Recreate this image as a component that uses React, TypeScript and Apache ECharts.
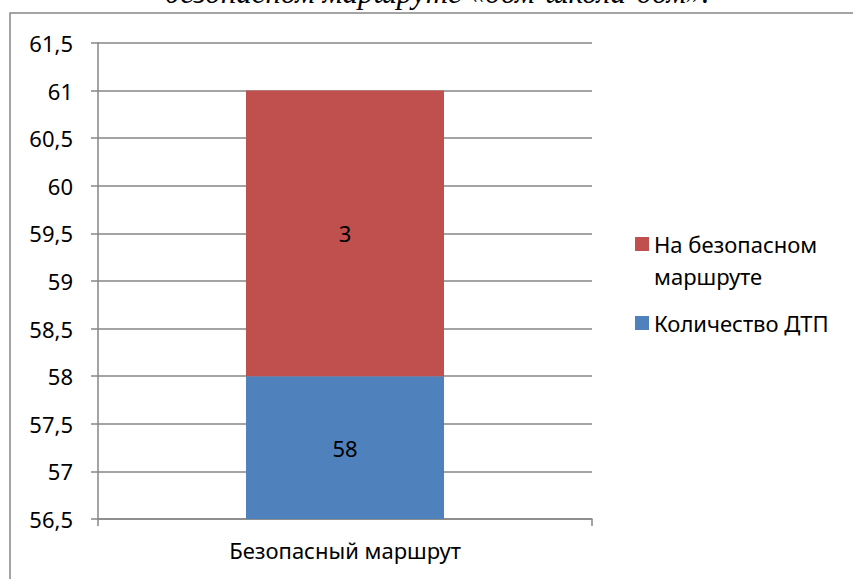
import React, { useEffect, useRef } from "react";
import * as echarts from "echarts";

const categories = ["Безопасный маршрут"];
const accidentsCount = [58];
const safeRouteCount = [3];
const seriesNames = ["Количество ДТП", "На безопасном маршруте"];
const yMin = 56.5;
const yMax = 61.5;
const yStep = 0.5;
const titleTail = "безопасном маршруте «дом-школа-дом».";

const FONT = "'Noto Sans', sans-serif";
const GRAY = "#868686";
const FS = 22;

export default function App() {
  const ref = useRef<HTMLDivElement>(null);
  useEffect(() => {
    if (!ref.current) return;
    const chart = echarts.init(ref.current, null, { renderer: "svg" });
    chart.setOption({
      animation: false,
      backgroundColor: "#ffffff",
      textStyle: { fontFamily: FONT },
      grid: { left: 98, right: 261, top: 43, bottom: 60, containLabel: false },
      graphic: [
        {
          type: "rect",
          shape: { x: 10, y: 13, width: 1000, height: 1000 },
          style: { fill: "none", stroke: GRAY, lineWidth: 1.5 },
          silent: true,
        },
        {
          type: "text",
          x: 437,
          y: 8,
          style: {
            text: titleTail,
            font: "italic 31px 'Liberation Serif', serif",
            fill: "#000",
            align: "center",
            verticalAlign: "bottom",
          },
        },
      ],
      legend: [
        {
          data: [seriesNames[1]],
          orient: "vertical",
          left: 630,
          top: 191,
          itemWidth: 14,
          itemHeight: 14,
          icon: "rect",
          formatter: () => "\nНа безопасном\nмаршруте",
          textStyle: { fontSize: FS, color: "#000", lineHeight: 32, fontFamily: FONT },
        },
        {
          data: [seriesNames[0]],
          orient: "vertical",
          left: 630,
          top: 302,
          itemWidth: 14,
          itemHeight: 14,
          icon: "rect",
          textStyle: { fontSize: FS, color: "#000", lineHeight: 32, fontFamily: FONT },
        },
      ],
      xAxis: {
        type: "category",
        data: categories,
        axisLine: { lineStyle: { color: GRAY, width: 1.5 } },
        axisTick: { show: true, length: 7, lineStyle: { color: GRAY, width: 1.5 } },
        axisLabel: { color: "#000", fontSize: FS, margin: 20, fontFamily: FONT },
      },
      yAxis: {
        type: "value",
        min: yMin,
        max: yMax,
        interval: yStep,
        axisLine: { show: true, lineStyle: { color: GRAY, width: 1.5 } },
        axisTick: { show: true, length: 7, lineStyle: { color: GRAY, width: 1.5 } },
        splitLine: { lineStyle: { color: GRAY, width: 1.5 } },
        axisLabel: {
          color: "#000",
          fontSize: FS,
          margin: 25,
          fontFamily: FONT,
          formatter: (v: number) => String(v).replace(".", ","),
        },
      },
      series: [
        {
          name: seriesNames[0],
          type: "bar",
          stack: "total",
          data: accidentsCount,
          barWidth: 198,
          itemStyle: { color: "#4F81BD" },
          label: { show: true, position: "inside", color: "#000", fontSize: FS, fontFamily: FONT },
        },
        {
          name: seriesNames[1],
          type: "bar",
          stack: "total",
          data: safeRouteCount,
          barWidth: 198,
          itemStyle: { color: "#C0504D" },
          label: { show: true, position: "inside", color: "#000", fontSize: FS, fontFamily: FONT },
        },
      ],
    });
    return () => chart.dispose();
  }, []);
  return (
    <div
      ref={ref}
      style={{ position: "fixed", left: 0, top: 0, width: 853, height: 579 }}
    />
  );
}
